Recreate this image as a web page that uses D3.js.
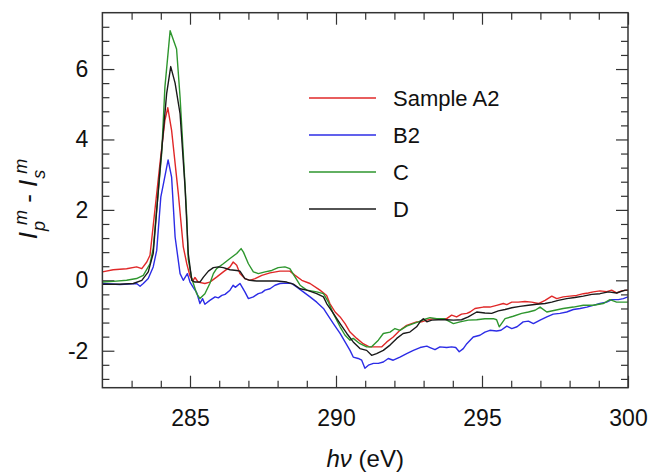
<!DOCTYPE html>
<html>
<head>
<meta charset="utf-8">
<script src="https://cdn.jsdelivr.net/npm/d3@7"></script>
<style>
  body { margin: 0; background: #fff; }
  svg { font-family: "Liberation Sans", Arial, sans-serif; }
</style>
</head>
<body>
<div id="chart"></div>
<script>
// data: [photon energy eV, Ip^m - Is^m]
var seriesNames = ["Sample A2", "B2", "C", "D"];
var seriesColors = ["#e02828", "#2c2ce6", "#2e962e", "#1a1a1a"];

var sampleA2 = [
  [282.0,0.24],[282.37,0.30],[282.83,0.33],[283.17,0.38],[283.35,0.33],[283.52,0.52],[283.63,0.71],
  [283.97,3.31],[284.14,4.54],[284.24,4.90],[284.37,4.26],[284.60,2.46],[284.77,0.95],[284.89,0.47],
  [285.0,0.12],[285.11,0.0],[285.17,0.08],[285.28,-0.05],[285.51,-0.09],[285.68,-0.05],[285.91,0.09],
  [286.14,0.24],[286.37,0.38],[286.48,0.52],[286.60,0.43],[286.71,0.19],[286.88,0.05],[287.05,0.0],
  [287.23,0.05],[287.46,0.14],[287.74,0.21],[288.08,0.26],[288.42,0.26],[288.60,0.14],[288.83,0.0],
  [289.11,-0.09],[289.45,-0.28],[289.68,-0.43],[289.79,-0.66],[289.97,-0.9],[290.14,-1.04],[290.31,-1.23],
  [290.48,-1.47],[290.71,-1.65],[290.93,-1.80],[291.14,-1.89],[291.34,-1.89],[291.57,-1.89],[291.74,-1.75],
  [291.96,-1.61],[292.19,-1.42],[292.42,-1.28],[292.59,-1.23],[292.76,-1.18],[292.93,-1.18],[293.11,-1.13],
  [293.33,-1.09],[293.56,-1.09],[293.79,-1.09],[293.96,-0.99],[294.13,-1.04],[294.30,-0.96],[294.48,-0.94],
  [294.59,-0.9],[294.76,-0.8],[295.04,-0.76],[295.27,-0.76],[295.50,-0.71],[295.73,-0.66],[295.85,-0.69],
  [296.02,-0.62],[296.24,-0.62],[296.47,-0.60],[296.70,-0.62],[296.93,-0.66],[297.16,-0.57],[297.39,-0.45],
  [297.56,-0.52],[297.78,-0.47],[298.01,-0.45],[298.24,-0.43],[298.47,-0.38],[298.64,-0.36],[298.81,-0.33],
  [299.04,-0.30],[299.27,-0.32],[299.44,-0.28],[299.61,-0.36],[299.78,-0.30],[300.0,-0.28]
];

var sampleB2 = [
  [282.0,-0.09],[282.6,-0.12],[283.17,-0.09],[283.29,-0.17],[283.40,-0.09],[283.57,0.05],[283.74,0.38],
  [283.86,0.85],[284.0,2.36],[284.09,2.74],[284.25,3.42],[284.37,2.93],[284.49,1.23],[284.66,0.19],
  [284.77,0.0],[284.91,0.19],[285.0,-0.05],[285.11,-0.2],[285.23,-0.35],[285.34,-0.66],[285.43,-0.52],
  [285.51,-0.68],[285.68,-0.57],[285.86,-0.47],[285.97,-0.5],[286.09,-0.43],[286.2,-0.4],[286.37,-0.28],
  [286.48,-0.14],[286.55,-0.2],[286.71,-0.09],[286.88,-0.33],[287.0,-0.52],[287.17,-0.47],[287.34,-0.38],
  [287.46,-0.35],[287.57,-0.28],[287.74,-0.24],[287.91,-0.14],[288.08,-0.09],[288.31,-0.08],[288.48,-0.09],
  [288.65,-0.19],[288.88,-0.33],[289.11,-0.47],[289.34,-0.62],[289.57,-0.8],[289.68,-0.94],[289.91,-1.23],
  [290.14,-1.51],[290.31,-1.75],[290.48,-1.99],[290.59,-2.18],[290.76,-2.22],[290.88,-2.27],[290.99,-2.5],
  [291.11,-2.41],[291.28,-2.36],[291.45,-2.36],[291.62,-2.32],[291.79,-2.22],[291.96,-2.27],[292.19,-2.18],
  [292.42,-2.08],[292.65,-1.99],[292.88,-1.91],[293.11,-1.87],[293.22,-1.91],[293.39,-1.97],[293.56,-1.89],
  [293.79,-1.91],[293.96,-1.89],[294.1,-1.91],[294.22,-2.03],[294.36,-1.94],[294.48,-1.80],[294.70,-1.61],
  [294.93,-1.56],[295.10,-1.47],[295.27,-1.42],[295.50,-1.44],[295.65,-1.42],[295.85,-1.30],[296.02,-1.37],
  [296.2,-1.32],[296.41,-1.18],[296.59,-1.16],[296.76,-1.23],[296.99,-1.13],[297.22,-1.04],[297.44,-0.96],
  [297.67,-0.94],[297.90,-0.90],[298.13,-0.83],[298.36,-0.80],[298.59,-0.76],[298.81,-0.71],[299.04,-0.66],
  [299.27,-0.62],[299.44,-0.55],[299.67,-0.55],[299.84,-0.52],[300.0,-0.47]
];

var sampleC = [
  [282.0,-0.05],[282.37,-0.03],[282.83,0.0],[283.17,0.05],[283.40,0.14],[283.63,0.47],[283.74,0.9],
  [284.03,3.6],[284.14,5.48],[284.32,7.09],[284.54,6.57],[284.66,5.2],[284.77,3.6],[284.89,1.8],
  [284.94,0.6],[285.06,0.05],[285.23,-0.38],[285.34,-0.52],[285.51,-0.38],[285.68,-0.09],[285.80,0.19],
  [285.91,0.33],[286.14,0.47],[286.37,0.62],[286.60,0.76],[286.75,0.9],[286.83,0.8],[287.0,0.47],
  [287.17,0.24],[287.34,0.19],[287.57,0.24],[287.80,0.28],[288.02,0.36],[288.25,0.38],[288.42,0.33],
  [288.60,0.09],[288.77,-0.14],[289.0,-0.28],[289.34,-0.33],[289.57,-0.38],[289.74,-0.62],[289.91,-0.95],
  [290.14,-1.32],[290.31,-1.56],[290.48,-1.70],[290.59,-1.65],[290.82,-1.80],[291.05,-1.89],[291.22,-1.89],
  [291.45,-1.70],[291.62,-1.51],[291.85,-1.47],[292.02,-1.37],[292.19,-1.42],[292.42,-1.30],[292.65,-1.23],
  [292.82,-1.18],[292.99,-1.12],[293.22,-1.06],[293.45,-1.09],[293.70,-1.09],[294.02,-1.23],[294.25,-1.18],
  [294.53,-1.13],[294.82,-1.12],[295.10,-1.09],[295.39,-1.09],[295.50,-1.12],[295.59,-1.32],[295.79,-1.09],
  [296.07,-1.02],[296.36,-0.94],[296.59,-0.90],[296.82,-0.85],[296.99,-0.76],[297.22,-0.90],[297.50,-0.85],
  [297.78,-0.80],[298.13,-0.76],[298.47,-0.71],[298.81,-0.71],[299.15,-0.66],[299.38,-0.55],[299.61,-0.62],
  [300.0,-0.62]
];

var sampleD = [
  [282.0,-0.11],[282.6,-0.11],[283.06,-0.09],[283.35,0.0],[283.57,0.24],[283.74,0.76],[283.97,3.12],
  [284.20,5.3],[284.34,6.07],[284.49,5.6],[284.66,4.73],[284.83,2.65],[284.94,0.76],[285.06,0.0],
  [285.17,-0.05],[285.34,-0.05],[285.46,0.09],[285.63,0.26],[285.80,0.36],[285.97,0.38],[286.14,0.36],
  [286.37,0.30],[286.60,0.28],[286.71,0.26],[286.88,0.05],[287.05,0.0],[287.28,-0.02],[287.63,-0.02],
  [287.97,-0.02],[288.31,-0.05],[288.54,-0.11],[288.77,-0.24],[289.0,-0.28],[289.34,-0.38],[289.57,-0.47],
  [289.68,-0.66],[289.91,-0.94],[290.14,-1.23],[290.37,-1.51],[290.59,-1.75],[290.82,-1.94],[291.05,-1.99],
  [291.22,-2.13],[291.39,-2.08],[291.62,-1.99],[291.85,-1.84],[292.08,-1.65],[292.30,-1.51],[292.53,-1.47],
  [292.76,-1.32],[292.88,-1.18],[292.99,-1.09],[293.11,-1.18],[293.28,-1.13],[293.50,-1.12],[293.79,-1.12],
  [294.02,-1.13],[294.30,-1.12],[294.53,-1.04],[294.82,-0.90],[295.10,-0.93],[295.33,-0.94],[295.56,-0.87],
  [295.79,-0.83],[296.02,-0.78],[296.30,-0.74],[296.59,-0.71],[296.87,-0.68],[297.16,-0.66],[297.39,-0.62],
  [297.61,-0.57],[297.90,-0.52],[298.18,-0.49],[298.47,-0.45],[298.76,-0.40],[299.04,-0.38],[299.33,-0.33],
  [299.61,-0.36],[299.90,-0.28],[300.0,-0.28]
];

var xMajorTicks = [285, 290, 295, 300];
var yMajorTicks = [-2, 0, 2, 4, 6];

var allSeries = [sampleA2, sampleB2, sampleC, sampleD];

var W = 655, H = 473;
var margin = { top: 12.7, right: 27, bottom: 85.3, left: 102.4 },
  width = W - margin.left - margin.right,
  height = H - margin.top - margin.bottom;

var x = d3.scaleLinear().domain([282, 300]).range([0, width]);
var y = d3.scaleLinear().domain([-3.05, 7.6]).range([height, 0]);

var svg = d3.select("#chart").append("svg")
  .attr("width", W)
  .attr("height", H)
  .append("g")
  .attr("transform", "translate(" + margin.left + "," + margin.top + ")");

svg.append("clipPath").attr("id", "clip")
  .append("rect").attr("width", width).attr("height", height);

var xMinor = d3.range(283, 300, 1).filter(function (d) { return d % 5 !== 0; });
var yMinor = d3.range(-2.8, 7.6, 0.4).map(function (d) { return Math.round(d * 10) / 10; })
  .filter(function (d) { return Math.abs(d % 2) > 0.01; });

// plain hyphen for negatives, like the original
var plain = function (d) { return String(d); };

function styleAxis(g) {
  g.select(".domain").remove();
  g.selectAll("line").attr("stroke", "#333").attr("stroke-width", 1.2);
  g.selectAll("text").attr("fill", "#111").style("font-size", "23px");
}

// bottom
svg.append("g").attr("transform", "translate(0," + height + ")")
  .call(d3.axisBottom(x).tickValues(xMajorTicks).tickSize(-12).tickPadding(22).tickFormat(plain))
  .call(styleAxis);
svg.append("g").attr("transform", "translate(0," + height + ")")
  .call(d3.axisBottom(x).tickValues(xMinor).tickSize(-7).tickFormat(""))
  .call(styleAxis);
// top
svg.append("g")
  .call(d3.axisTop(x).tickValues(xMajorTicks).tickSize(-12).tickFormat(""))
  .call(styleAxis);
svg.append("g")
  .call(d3.axisTop(x).tickValues(xMinor).tickSize(-7).tickFormat(""))
  .call(styleAxis);
// left
svg.append("g")
  .call(d3.axisLeft(y).tickValues(yMajorTicks).tickSize(-12).tickPadding(14).tickFormat(plain))
  .call(styleAxis);
svg.append("g")
  .call(d3.axisLeft(y).tickValues(yMinor).tickSize(-7).tickFormat(""))
  .call(styleAxis);
// right
svg.append("g").attr("transform", "translate(" + width + ",0)")
  .call(d3.axisRight(y).tickValues(yMajorTicks).tickSize(-12).tickFormat(""))
  .call(styleAxis);
svg.append("g").attr("transform", "translate(" + width + ",0)")
  .call(d3.axisRight(y).tickValues(yMinor).tickSize(-7).tickFormat(""))
  .call(styleAxis);

var line = d3.line()
  .x(function (d) { return x(d[0]); })
  .y(function (d) { return y(d[1]); });

svg.append("g").attr("clip-path", "url(#clip)")
  .selectAll(".curve")
  .data(allSeries)
  .enter().append("path")
  .attr("class", "curve")
  .attr("d", line)
  .attr("fill", "none")
  .attr("stroke", function (d, i) { return seriesColors[i]; })
  .attr("stroke-width", 1.4)
  .attr("stroke-linejoin", "round");

svg.append("rect")
  .attr("width", width)
  .attr("height", height)
  .attr("fill", "none")
  .attr("stroke", "#333")
  .attr("stroke-width", 1.5);

// legend
var legend = svg.selectAll(".legend")
  .data(seriesNames)
  .enter().append("g")
  .attr("class", "legend")
  .attr("transform", function (d, i) { return "translate(" + (309 - margin.left) + "," + (98 + i * 37 - margin.top) + ")"; });

legend.append("line")
  .attr("x1", 0).attr("x2", 67)
  .attr("stroke", function (d, i) { return seriesColors[i]; })
  .attr("stroke-width", 1.6);

legend.append("text")
  .attr("x", 84)
  .attr("y", 8)
  .style("font-size", "22px")
  .attr("fill", "#111")
  .text(function (d) { return d; });

// x title
var xt = svg.append("text")
  .attr("x", width / 2)
  .attr("y", 467 - margin.top)
  .attr("text-anchor", "middle")
  .style("font-size", "24px")
  .attr("fill", "#111");
xt.append("tspan").style("font-style", "italic").text("h\u03BD");
xt.append("tspan").text(" (eV)");

// y title
var yt = svg.append("text")
  .attr("transform", "translate(" + (37 - margin.left) + "," + (199 - margin.top) + ") rotate(-90)")
  .attr("text-anchor", "middle")
  .style("font-size", "26px")
  .attr("fill", "#111");
yt.append("tspan").style("font-style", "italic").text("I");
yt.append("tspan").style("font-style", "italic").style("font-size", "18px").attr("dy", 8).attr("dx", 1).text("p");
yt.append("tspan").style("font-style", "italic").style("font-size", "18px").attr("dy", -18).attr("dx", -4).text("m");
yt.append("tspan").attr("dy", 10).text(" - ");
yt.append("tspan").style("font-style", "italic").text("I");
yt.append("tspan").style("font-style", "italic").style("font-size", "18px").attr("dy", 8).attr("dx", 1).text("s");
yt.append("tspan").style("font-style", "italic").style("font-size", "18px").attr("dy", -18).attr("dx", -4).text("m");
</script>
</body>
</html>
